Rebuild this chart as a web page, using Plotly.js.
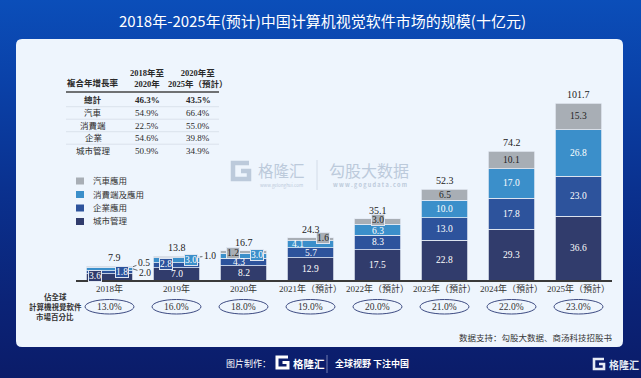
<!DOCTYPE html>
<html><head><meta charset="utf-8">
<script src="https://cdn.plot.ly/plotly-3.0.1.min.js"></script>
<style>
html,body{margin:0;padding:0;}
#chart{width:641px;height:378px;background:linear-gradient(180deg,#0b4eb9 0%,#0a41a8 22%,#0a318f 50%,#0b2377 80%,#0b1c69 100%);}
</style></head>
<body><div id="chart"></div>
<script>
// ---------- data ----------
const categories = ['2018年','2019年','2020年','2021年（預計）','2022年（預計）','2023年（預計）','2024年（預計）','2025年（預計）'];
const cityMgmt   = [3.6, 7.0, 8.2, 12.9, 17.5, 22.8, 29.3, 36.6];
const enterprise = [1.8, 2.8, 4.3, 5.7, 8.3, 13.0, 17.8, 23.0];
const consumer   = [2.0, 3.0, 3.0, 4.1, 6.3, 10.0, 17.0, 26.8];
const automotive = [0.5, 1.0, 1.2, 1.6, 3.0, 6.5, 10.1, 15.3];
const totals     = [7.9, 13.8, 16.7, 24.3, 35.1, 52.3, 74.2, 101.7];
const globalShare = ['13.0%','16.0%','18.0%','19.0%','20.0%','21.0%','22.0%','23.0%'];
const seriesNames = ['城市管理','企業應用','消費端及應用','汽車應用'];
const cagrRows = ['總計','汽車','消費端','企業','城市管理'];
const cagr2018to2020 = ['46.3%','54.9%','22.5%','54.6%','50.9%'];
const cagr2020to2025 = ['43.5%','66.4%','55.0%','39.8%','34.9%'];

// ---------- styling ----------
const W = 641, H = 378;
const X = p => p / W, Y = p => 1 - p / H;
const colors = ['#313c6c', '#2d539c', '#3b8fca', '#a8aeb5'];
const SERIF = 'Liberation Serif, "Noto Sans CJK TC", serif';
const SANS = '"Noto Sans CJK SC", "Noto Sans", sans-serif';
const series = [cityMgmt, enterprise, consumer, automotive];

const traces = series.map((vals, s) => ({
  type: 'bar', x: categories, y: vals, name: seriesNames[s],
  marker: {color: colors[s], line: {color: '#e3eaf4', width: 0.8}},
  hoverinfo: 'skip', showlegend: false
}));

const annotations = [];
const shapes = [];

// label placement tweaks for the small bars (pixel offsets)
const labelTweaks = {
  '0,0': {dx: -15, dy: -1, box: true},
  '0,1': {dx: 12, dy: 0, box: true},
  '0,2': {leader: true, ax: 12, ay: 4},
  '0,3': {leader: true, ax: 11, ay: -4},
  '1,1': {dx: -11, dy: -1, box: true},
  '1,2': {dx: 14, dy: 0, box: true},
  '1,3': {leader: true, ax: 10, ay: -1},
  '2,1': {dx: -5, dy: 0},
  '2,2': {dx: 13, dy: -1, box: true},
  '2,3': {dx: -11, dy: 1, box: true},
  '3,2': {dx: -13, dy: 0},
  '3,3': {dx: 12, dy: -1, box: true},
  '4,2': {dx: 0, dy: 1.5},
  '4,3': {dx: 0, dy: -2, box: true}
};

categories.forEach((c, i) => {
  let cum = 0;
  series.forEach((vals, s) => {
    const v = vals[i];
    const mid = cum + v / 2;
    cum += v;
    const t = labelTweaks[i + ',' + s] || {};
    const dark = s === 3;
    if (t.leader) {
      annotations.push({x: i + 0.35, y: mid, xref: 'x', yref: 'y', text: v.toFixed(1),
        showarrow: true, arrowhead: 0, arrowwidth: 0.8, arrowcolor: '#444',
        ax: t.ax, ay: t.ay, standoff: 0,
        font: {family: SERIF, size: 9.5, color: '#222'}});
    } else {
      const a = {x: i, y: mid, xref: 'x', yref: 'y', text: v.toFixed(1), showarrow: false,
        xshift: t.dx || 0, yshift: -(t.dy || 0),
        font: {family: SERIF, size: 9.5, color: dark ? '#222' : '#ffffff'}};
      if (t.box) { a.bgcolor = colors[s]; a.bordercolor = '#dfe6f1'; a.borderwidth = 1; a.borderpad = 0; }
      annotations.push(a);
    }
  });
  // totals
  annotations.push({x: i, y: totals[i], xref: 'x', yref: 'y', text: totals[i].toFixed(1),
    showarrow: false, yanchor: 'bottom', yshift: 1, xshift: i === 0 ? 5 : 0,
    font: {family: SERIF, size: 10, color: '#222'}});
  // share ellipses
  shapes.push({type: 'circle', xref: 'x', yref: 'paper', x0: i - 0.365, x1: i + 0.365,
    y0: Y(314), y1: Y(299.5), line: {color: '#3d4b82', width: 1}});
  annotations.push({x: i, y: Y(307), xref: 'x', yref: 'paper', text: globalShare[i], showarrow: false,
    font: {family: SERIF, size: 9.5, color: '#333'}});
});

// ---------- panel ----------
const r = 6, L = 16, R = 623, T = 39, B = 347;
shapes.push({type: 'path', xref: 'paper', yref: 'paper', layer: 'below', fillcolor: '#eef5fd', line: {width: 0},
  path: `M ${X(L + r)},${Y(T)} L ${X(R - r)},${Y(T)} Q ${X(R)},${Y(T)} ${X(R)},${Y(T + r)} L ${X(R)},${Y(B - r)} Q ${X(R)},${Y(B)} ${X(R - r)},${Y(B)} L ${X(L + r)},${Y(B)} Q ${X(L)},${Y(B)} ${X(L)},${Y(B - r)} L ${X(L)},${Y(T + r)} Q ${X(L)},${Y(T)} ${X(L + r)},${Y(T)} Z`});

// ---------- table ----------
const tfont = (sz, bold) => ({family: SERIF, size: sz, color: '#2a2a2a', weight: bold ? 'bold' : 'normal'});
const colX = [93, 147, 198];
annotations.push({x: X(colX[0]), y: Y(83), xref: 'paper', yref: 'paper', text: '複合年增長率', showarrow: false, font: tfont(8.5, true)});
annotations.push({x: X(colX[1]), y: Y(78.5), xref: 'paper', yref: 'paper', text: '2018年至<br>2020年', showarrow: false, font: tfont(8.5, true)});
annotations.push({x: X(colX[2]), y: Y(78.5), xref: 'paper', yref: 'paper', text: '2020年至<br>2025年（預計）', showarrow: false, font: tfont(8.5, true)});
shapes.push({type: 'line', xref: 'paper', yref: 'paper', x0: X(66), x1: X(219), y0: Y(92), y1: Y(92), line: {color: '#444', width: 1.3}});
const rowY = [100.5, 113, 125.5, 138, 150.5];
cagrRows.forEach((name, k) => {
  const b = k === 0;
  annotations.push({x: X(colX[0]), y: Y(rowY[k]), xref: 'paper', yref: 'paper', text: name, showarrow: false, font: tfont(8.5, b)});
  annotations.push({x: X(colX[1]), y: Y(rowY[k]), xref: 'paper', yref: 'paper', text: cagr2018to2020[k], showarrow: false, font: tfont(9, b)});
  annotations.push({x: X(colX[2]), y: Y(rowY[k]), xref: 'paper', yref: 'paper', text: cagr2020to2025[k], showarrow: false, font: tfont(9, b)});
  if (k < cagrRows.length - 1) {
    shapes.push({type: 'line', xref: 'paper', yref: 'paper', x0: X(66), x1: X(219), y0: Y(rowY[k] + 6.2), y1: Y(rowY[k] + 6.2), line: {color: '#cdd5e0', width: 0.6}});
  }
});

// ---------- legend ----------
const legY = [181, 194.5, 208, 221.5];
[3, 2, 1, 0].forEach((s, k) => {
  shapes.push({type: 'rect', xref: 'paper', yref: 'paper', x0: X(76), x1: X(84), y0: Y(legY[k] + 3.5), y1: Y(legY[k] - 3.5), fillcolor: colors[s], line: {width: 0}});
  annotations.push({x: X(91), y: Y(legY[k]), xref: 'paper', yref: 'paper', xanchor: 'left', text: seriesNames[s], showarrow: false, font: {family: SERIF, size: 8.5, color: '#333'}});
});

// ---------- left row label ----------
[['佔全球', 296.5], ['計算機視覺軟件', 306.5], ['市場百分比', 316.5]].forEach(([t, y]) => {
  annotations.push({x: X(55), y: Y(y), xref: 'paper', yref: 'paper', text: t, showarrow: false, font: {family: SERIF, size: 7.5, color: '#333', weight: 'bold'}});
});

// ---------- G logo helper ----------
function gLogo(x, y, s, w, col, layer) {
  shapes.push({type: 'path', xref: 'paper', yref: 'paper', layer: layer || 'above', line: {color: col, width: w},
    path: `M ${X(x + s)},${Y(y)} L ${X(x)},${Y(y)} L ${X(x)},${Y(y + s)} L ${X(x + s)},${Y(y + s)} L ${X(x + s)},${Y(y + s * 0.5)} L ${X(x + s * 0.5)},${Y(y + s * 0.5)}`});
}

// ---------- watermark ----------
const wm = '#bccadb';
gLogo(233, 163, 16, 4.5, wm, 'below');
annotations.push({x: X(281), y: Y(170), xref: 'paper', yref: 'paper', text: '格隆汇', showarrow: false, font: {family: SANS, size: 15.5, color: wm}});
annotations.push({x: X(281), y: Y(185.5), xref: 'paper', yref: 'paper', text: 'www.gelonghui.com', showarrow: false, font: {family: SANS, size: 4.5, color: wm}});
shapes.push({type: 'line', xref: 'paper', yref: 'paper', x0: X(317), x1: X(317), y0: Y(160), y1: Y(190), line: {color: '#d3dce8', width: 1}});
annotations.push({x: X(369), y: Y(170), xref: 'paper', yref: 'paper', text: '勾股大数据', showarrow: false, font: {family: SANS, size: 16, color: wm}});
annotations.push({x: X(370), y: Y(185.5), xref: 'paper', yref: 'paper', text: 'w w w . g o g u d a t a . c o m', showarrow: false, font: {family: SANS, size: 5.5, color: wm, weight: 'bold'}});

// ---------- source ----------
annotations.push({x: X(615), y: Y(337), xref: 'paper', yref: 'paper', xanchor: 'right', text: '数据支持：勾股大数据、商汤科技招股书', showarrow: false, font: {family: SANS, size: 8.5, color: '#333'}});

// ---------- footer ----------
annotations.push({x: X(273), y: Y(363.5), xref: 'paper', yref: 'paper', xanchor: 'right', text: '图片制作：', showarrow: false, font: {family: SANS, size: 9, color: '#ffffff'}});
gLogo(277, 357, 11, 3, '#ffffff');
annotations.push({x: X(291), y: Y(363), xref: 'paper', yref: 'paper', xanchor: 'left', text: '格隆汇', showarrow: false, font: {family: SANS, size: 10.5, color: '#ffffff', weight: 'bold'}});
shapes.push({type: 'line', xref: 'paper', yref: 'paper', x0: X(327), x1: X(327), y0: Y(355), y1: Y(373), line: {color: '#8a96c4', width: 0.8}});
annotations.push({x: X(333), y: Y(363.5), xref: 'paper', yref: 'paper', xanchor: 'left', text: '全球视野 下注中国', showarrow: false, font: {family: SANS, size: 9, color: '#ffffff', weight: 'bold'}});
gLogo(594, 359, 10, 2.6, '#e6ebf5');
annotations.push({x: X(607), y: Y(364), xref: 'paper', yref: 'paper', xanchor: 'left', text: '格隆汇', showarrow: false, font: {family: SANS, size: 10, color: '#e6ebf5', weight: 'bold'}});

// explicit anchors (paper "auto" anchoring would shift texts)
annotations.forEach(a => {
  if (!a.showarrow) {
    if (!a.xanchor) a.xanchor = 'center';
    if (!a.yanchor) a.yanchor = 'middle';
  }
});

const layout = {
  width: W, height: H, margin: {l: 0, r: 0, t: 0, b: 0},
  paper_bgcolor: 'rgba(0,0,0,0)', plot_bgcolor: 'rgba(0,0,0,0)',
  title: {text: '2018年-2025年(预计)中国计算机视觉软件市场的规模(十亿元)', x: 0.503, xanchor: 'center', y: Y(22), yanchor: 'middle',
    font: {family: SANS, size: 15, color: '#ffffff'}},
  barmode: 'stack', bargap: 0.3,
  xaxis: {domain: [X(76), X(612)], range: [-0.5, 7.5], type: 'category', showline: true, linecolor: '#3a3a3a', linewidth: 1.5,
    ticks: '', tickangle: 0, showgrid: false, zeroline: false, tickfont: {family: SERIF, size: 9, color: '#333'}, fixedrange: true},
  yaxis: {domain: [1 - 280 / H, 1 - 54 / H], range: [0, 130], visible: false, showgrid: false, zeroline: false, fixedrange: true},
  showlegend: false, annotations, shapes
};
Plotly.newPlot('chart', traces, layout, {displayModeBar: false, staticPlot: true});
</script></body></html>
